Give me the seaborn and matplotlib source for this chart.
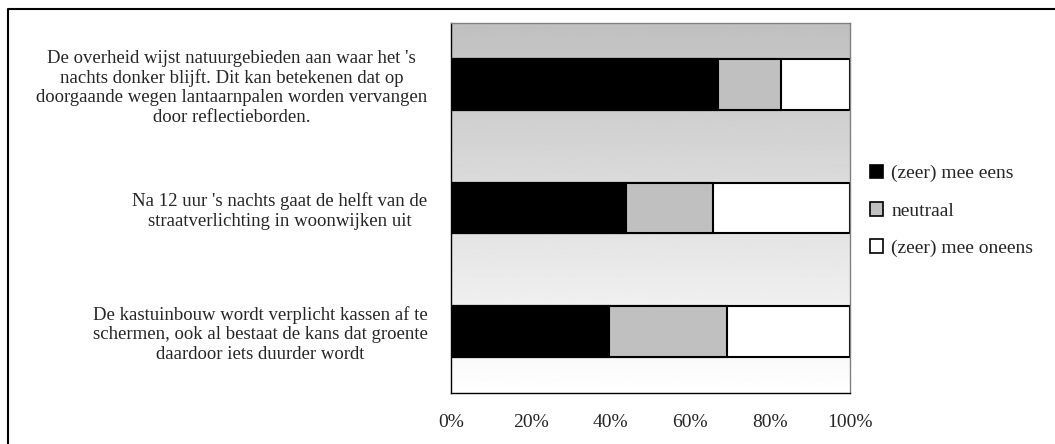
import numpy as np
import pandas as pd
import matplotlib
matplotlib.use("Agg")
import matplotlib.pyplot as plt
from matplotlib.patches import Patch
import seaborn as sns

# Statements (y categories) and answer shares in percent
statements = [
    "De overheid wijst natuurgebieden aan waar het 's\nnachts donker blijft. Dit kan betekenen dat op\ndoorgaande wegen lantaarnpalen worden vervangen\ndoor reflectieborden.",
    "Na 12 uur 's nachts gaat de helft van de\nstraatverlichting in woonwijken uit",
    "De kastuinbouw wordt verplicht kassen af te\nschermen, ook al bestaat de kans dat groente\ndaardoor iets duurder wordt",
]
eens = [66.8, 43.9, 39.6]
neutraal = [16.0, 21.8, 29.6]
oneens = [17.2, 34.3, 30.8]

series = ["(zeer) mee eens", "neutraal", "(zeer) mee oneens"]
colors = ["#000000", "#c0c0c0", "#ffffff"]

df = pd.DataFrame({"stelling": statements, "eens": eens,
                   "neutraal": neutraal, "oneens": oneens})
df["cum_neutraal"] = df["eens"] + df["neutraal"]
df["cum_oneens"] = df["cum_neutraal"] + df["oneens"]

sns.set_style("white")
plt.rcParams["font.family"] = ["Liberation Serif", "DejaVu Serif"]

fig = plt.figure(figsize=(10.55, 4.44), dpi=100)
ax = fig.add_axes([0.4275, 0.1149, 0.3782, 0.8333])

# gradient background of the plot area (gray at top -> white at bottom)
grad = np.linspace(0.75, 1.0, 256).reshape(-1, 1)
ax.imshow(grad, cmap="gray", vmin=0, vmax=1, aspect="auto",
          extent=[0, 1, 0, 1], transform=ax.transAxes, zorder=0)

# stacked bars: draw cumulative totals from back to front
for col, c in zip(["cum_oneens", "cum_neutraal", "eens"], colors[::-1]):
    sns.barplot(data=df, x=col, y="stelling", orient="h", color=c,
                edgecolor="black", linewidth=1.5, width=0.41, ax=ax,
                zorder=2, saturation=1)

ax.set_xlim(0, 100)
ax.set_ylim(2.5, -0.5)
ax.set_xticks(np.arange(0, 101, 20))
ax.set_xticklabels([f"{v}%" for v in range(0, 101, 20)], fontsize=14)
ax.set_xlabel("")
ax.set_ylabel("")
ax.tick_params(axis="x", direction="out", length=5, width=1, color="black", pad=10)
ax.tick_params(axis="y", length=0, pad=17)
for lab in ax.get_yticklabels():
    lab.set_fontsize(13.5)
    lab.set_multialignment("center")
    lab.set_linespacing(1.17)

for side in ["top", "right"]:
    ax.spines[side].set_color("#808080")
    ax.spines[side].set_linewidth(1)
for side in ["left", "bottom"]:
    ax.spines[side].set_color("black")
    ax.spines[side].set_linewidth(1)

handles = [Patch(facecolor=c, edgecolor="black", linewidth=1.2) for c in colors]
fig.legend(handles, series, loc="upper left",
           bbox_to_anchor=(862 / 1055, 1 - 157 / 444), frameon=False,
           fontsize=14, handlelength=0.7, handleheight=0.7,
           handletextpad=0.4, labelspacing=1.0, borderaxespad=0)

# outer frame of the chart (top and left edges visible)
fig.add_artist(plt.Line2D([8 / 1055, 8 / 1055, 1.0], [0.0, 1 - 9.5 / 444, 1 - 9.5 / 444],
                          transform=fig.transFigure, color="black", linewidth=1.5))

fig.savefig("out.png", dpi=100)
